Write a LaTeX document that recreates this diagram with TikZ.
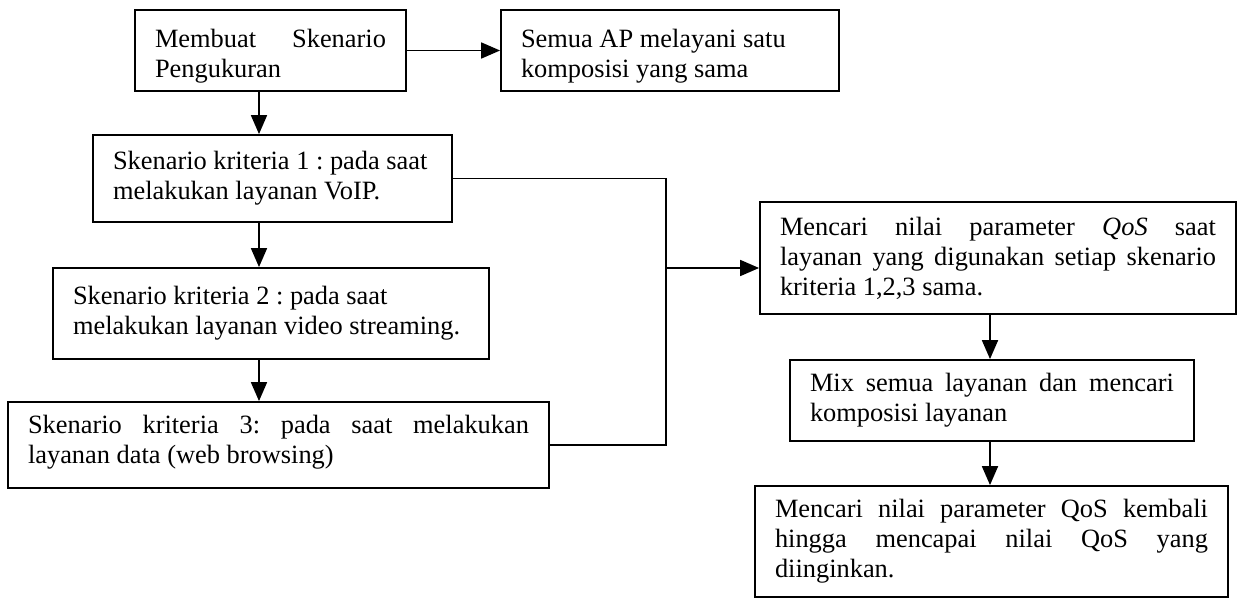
\documentclass[tikz,border=0pt]{standalone}
\usepackage{fontspec}
\setmainfont{Liberation Serif}
\frenchspacing
\usetikzlibrary{arrows.meta}

\begin{document}
\begin{tikzpicture}[x=0.5pt,y=-0.5pt,
  box/.style={draw, line width=0.9pt, inner xsep=10pt, inner ysep=0pt,
    align=justify, font=\fontsize{13.2}{15}\selectfont},
  arr/.style={line width=0.9pt, -{Triangle[length=9.5pt,width=8pt]}},
  wire/.style={line width=0.9pt}]
\useasboundingbox (0,0) rectangle (1243,599);

% left column
\node[box, text width=115.5pt, minimum height=40.5pt, text height=15pt] (buat) at (270.5,50.5)
  {Membuat Skenario\linebreak Pengukuran};
\node[box, text width=149pt, minimum height=40.5pt, text height=15pt] (semua) at (670,50.5)
  {Semua AP melayani satu\\ komposisi yang sama};
\node[box, text width=159.5pt, minimum height=43.5pt] (k1) at (272.5,178.5)
  {Skenario kriteria 1 : pada saat\\ melakukan layanan VoIP.};
\node[box, text width=198pt, minimum height=45.5pt] (k2) at (271,313.5)
  {Skenario kriteria 2 : pada saat\\ melakukan layanan video streaming.};
\node[box, text width=250.5pt, minimum height=43pt, text height=6pt] (k3) at (278.5,445)
  {Skenario kriteria 3: pada saat melakukan\linebreak layanan data (web browsing)};

% right column
\node[box, text width=218pt, minimum height=56pt] (nilai) at (998,258)
  {Mencari nilai parameter \textit{QoS} saat\linebreak layanan yang digunakan setiap skenario\linebreak kriteria 1,2,3 sama.};
\node[box, text width=182pt, minimum height=40.5pt] (mix) at (992,400.5)
  {Mix semua layanan dan mencari\linebreak komposisi layanan};
\node[box, text width=216.5pt, minimum height=55.5pt] (ulang) at (991.5,541.5)
  {Mencari nilai parameter QoS kembali\linebreak hingga mencapai nilai QoS yang\linebreak diinginkan.};

\coordinate (lx) at (259,0);   % x of the left arrows
\coordinate (jn) at (666,268); % joint of the three scenario lines
\coordinate (rx) at (990,0);   % x of the right arrows

\draw[arr] (buat) -- (semua);
\draw[arr] (buat.south -| lx) -- (k1.north -| lx);
\draw[arr] (k1.south -| lx) -- (k2.north -| lx);
\draw[arr] (k2.south -| lx) -- (k3.north -| lx);
\draw[wire] (k1.east) -- (k1.east -| jn) -- (k3.east -| jn) -- (k3.east);
\draw[arr] (jn) -- (jn -| nilai.west);
\draw[arr] (nilai.south -| rx) -- (mix.north -| rx);
\draw[arr] (mix.south -| rx) -- (ulang.north -| rx);
\end{tikzpicture}
\end{document}
